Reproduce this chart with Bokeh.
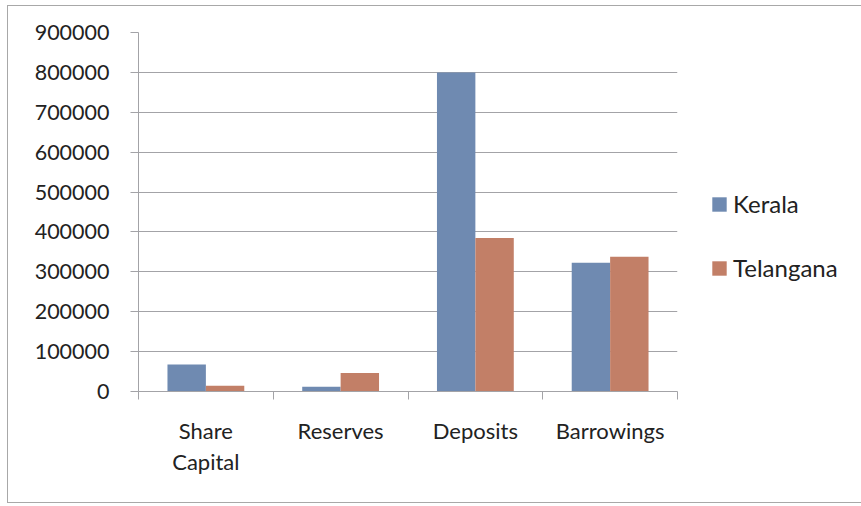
from bokeh.plotting import figure
from bokeh.models import (ColumnDataSource, Range1d, FixedTicker, Legend, LegendItem,
                          BasicTickFormatter)
from bokeh.embed import file_html
from bokeh.resources import INLINE

categories = ["Share Capital", "Reserves", "Deposits", "Barrowings"]
tick_labels = ["Share\nCapital", "Reserves", "Deposits", "Barrowings"]
kerala = [67500, 12000, 800000, 323000]
telangana = [14500, 46500, 385000, 338000]
y_ticks = [0, 100000, 200000, 300000, 400000, 500000, 600000, 700000, 800000, 900000]

FONT = "Lato"
TXT = "#222222"
GRID = "#a3a3a7"
BLUE = "#6f8ab1"
ORANGE = "#c27f67"

idx = list(range(len(categories)))
centers = [i + 0.5 for i in idx]
bw = 0.285
src = ColumnDataSource(dict(
    xk=[c - bw / 2 for c in centers],
    xt=[c + bw / 2 for c in centers],
    kerala=kerala, telangana=telangana, cat=categories))

p = figure(frame_width=539, frame_height=359, output_backend="svg", toolbar_location=None,
           x_range=Range1d(0, len(categories)), y_range=Range1d(0, 900000),
           min_border_left=130, min_border_right=176, min_border_top=26, min_border_bottom=111)
p.outline_line_color = None
p.styles = {"border": "1px solid #a8a8a8", "margin-left": "7px", "margin-top": "5px"}

rk = p.vbar(x="xk", top="kerala", width=bw, source=src, fill_color=BLUE, line_color=None)
rt = p.vbar(x="xt", top="telangana", width=bw, source=src, fill_color=ORANGE, line_color=None)

# y axis
p.yaxis.ticker = FixedTicker(ticks=y_ticks)
p.yaxis.formatter = BasicTickFormatter(use_scientific=False)
p.yaxis.major_tick_out = 8
p.yaxis.major_tick_in = 0
p.yaxis.minor_tick_out = 0
p.yaxis.minor_tick_in = 0
p.yaxis.major_label_standoff = 21
p.yaxis.axis_line_color = GRID
p.yaxis.major_tick_line_color = GRID
p.yaxis.major_label_text_font = FONT
p.yaxis.major_label_text_font_size = "21.5px"
p.yaxis.major_label_text_color = TXT

# x axis: labels at centers, ticks at boundaries
p.xaxis.ticker = FixedTicker(ticks=centers, minor_ticks=[0, 1, 2, 3, 4])
p.xaxis.major_label_overrides = {c: lab for c, lab in zip(centers, tick_labels)}
p.xaxis.major_tick_out = 0
p.xaxis.major_tick_in = 0
p.xaxis.minor_tick_out = 8
p.xaxis.minor_tick_in = 0
p.xaxis.minor_tick_line_color = GRID
p.xaxis.axis_line_color = GRID
p.xaxis.major_label_standoff = 17
p.xaxis.major_label_text_font = FONT
p.xaxis.major_label_text_font_size = "22px"
p.xaxis.major_label_text_color = TXT
p.xaxis.major_label_text_line_height = 1.17

p.xgrid.grid_line_color = None
p.ygrid.ticker = FixedTicker(ticks=y_ticks)
p.ygrid.grid_line_color = GRID
p.ygrid.grid_line_width = 1

legend = Legend(items=[LegendItem(label="Kerala", renderers=[rk]),
                       LegendItem(label="Telangana", renderers=[rt])],
                location=(33, 109))
legend.padding = 0
legend.margin = 0
legend.border_line_color = None
legend.background_fill_alpha = 0
legend.glyph_width = 18
legend.glyph_height = 18
legend.label_height = 20
legend.spacing = 35
legend.label_standoff = 5
legend.label_text_font = FONT
legend.label_text_font_size = "24px"
legend.label_text_color = TXT
p.add_layout(legend, "right")

open("out.html", "w").write(file_html(p, INLINE))
